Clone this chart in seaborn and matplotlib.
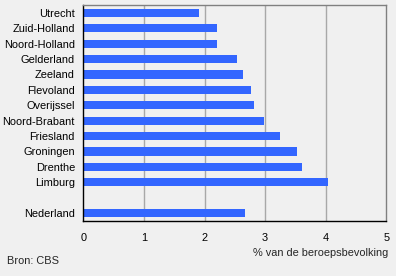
import numpy as np
import pandas as pd
import matplotlib
matplotlib.use("Agg")
import matplotlib.pyplot as plt
import seaborn as sns

regions = ["Utrecht", "Zuid-Holland", "Noord-Holland", "Gelderland", "Zeeland",
           "Flevoland", "Overijssel", "Noord-Brabant", "Friesland", "Groningen",
           "Drenthe", "Limburg", " ", "Nederland"]
values = [1.91, 2.21, 2.21, 2.54, 2.64, 2.77, 2.82, 2.98, 3.25, 3.53,
          3.61, 4.04, np.nan, 2.67]
x_ticks = [0, 1, 2, 3, 4, 5]
x_label = "% van de beroepsbevolking"
source = "Bron: CBS"

sns.set_theme(style="white")
plt.rcParams["font.family"] = ["Liberation Sans", "DejaVu Sans"]
plt.rcParams["font.size"] = 8

fs = 7.9
bg = "#F0F0F0"
fig = plt.figure(figsize=(3.96, 2.76), dpi=100, facecolor=bg)
ax = fig.add_axes([0.2104, 0.2004, 0.9755 - 0.2104, 0.981 - 0.2004])
ax.set_facecolor(bg)

df = pd.DataFrame({"regio": regions, "waarde": values})
sns.barplot(data=df, x="waarde", y="regio", order=regions, orient="h",
            color="#3366FF", saturation=1, width=0.54, linewidth=0,
            edgecolor="none", ax=ax, zorder=3)

ax.set_xlim(0, 5)
ax.set_ylim(len(regions) - 0.5, -0.5)
ax.set_xticks(x_ticks)
ax.set_xticklabels([str(t) for t in x_ticks], fontsize=fs, color="black")
ax.tick_params(axis="x", direction="out", length=3, width=1, color="black", pad=6)
ax.tick_params(axis="y", length=0, pad=6, labelsize=fs, labelcolor="black")
for t in ax.get_xticks()[1:-1]:
    ax.axvline(t, color="#A8A8A8", lw=1, zorder=1)

ax.set_xlabel("")
ax.set_ylabel("")
for s in ["top", "right"]:
    ax.spines[s].set_color("#808080")
    ax.spines[s].set_linewidth(1)
for s in ["left", "bottom"]:
    ax.spines[s].set_color("black")
    ax.spines[s].set_linewidth(1)
for s in ax.spines.values():
    s.set_zorder(5)

fig.text(388 / 396, 1 - 253 / 276, x_label, ha="right", va="center", fontsize=fs)
fig.text(7 / 396, 1 - 261 / 276, source, ha="left", va="center", fontsize=fs)

fig.savefig("out.png", dpi=100, facecolor=bg)
